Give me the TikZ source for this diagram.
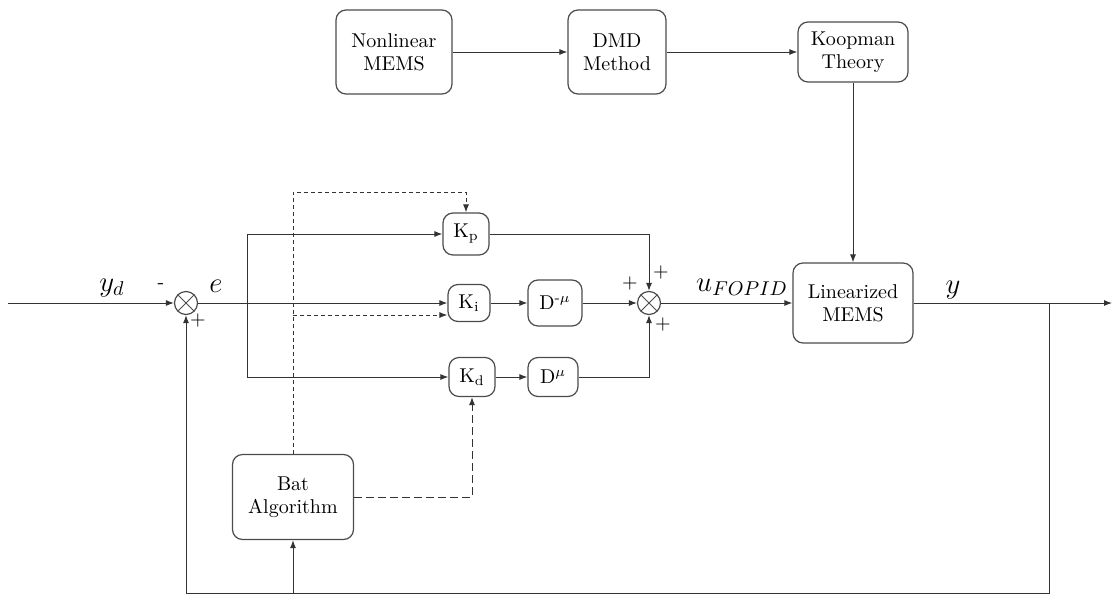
\documentclass[tikz,border=0pt]{standalone}
\usetikzlibrary{arrows.meta,calc}

\tikzset{
  blk/.style={draw=black!70, rounded corners=5pt, align=center, inner sep=1pt,
    line width=0.6pt, font=\fontsize{10}{11.5}\selectfont},
  sumnode/.style={draw=black!70, circle, minimum size=11.5pt, inner sep=0pt, line width=0.6pt,
    path picture={\draw[black!70, line width=0.5pt]
      (path picture bounding box.north west) -- (path picture bounding box.south east)
      (path picture bounding box.north east) -- (path picture bounding box.south west);}},
  sig/.style={draw=black!80, line width=0.5pt, -{Latex[length=4pt,width=3pt]}},
  ctl/.style={sig, dash pattern=on 2pt off 1.5pt},
  ctlb/.style={sig, dash pattern=on 4pt off 2pt},
  lbl/.style={font=\fontsize{14}{16}\selectfont, inner sep=0pt},
  sgn/.style={font=\fontsize{10}{12}\selectfont, inner sep=0pt}
}

\begin{document}
\begin{tikzpicture}[x=0.5pt, y=-0.5pt]
  %%%%% START %%%%%
  \useasboundingbox (0,0) rectangle (1113,595);

  % identification chain
  \node[blk, minimum width=58pt, minimum height=42pt] (nlm) at (394,52) {Nonlinear\\MEMS};
  \node[blk, minimum width=49pt, minimum height=42pt] (dmd) at (617,52) {DMD\\Method};
  \node[blk, minimum width=55pt, minimum height=30pt] (koop) at (853,52) {Koopman\\Theory};
  \node[blk, minimum width=60pt, minimum height=40pt] (lin) at (853,303) {Linearized\\MEMS};

  % controller
  \node[sumnode] (s1) at (186,303) {};
  \node[blk, minimum width=23pt, minimum height=21pt] (kp) at (466,234) {K\textsubscript{p}};
  \node[blk, minimum width=21pt, minimum height=18.5pt] (ki) at (469,303) {K\textsubscript{i}};
  \node[blk, minimum width=27pt, minimum height=23pt] (dmi) at (555,303) {D\textsuperscript{-$\mu$}};
  \node[blk, minimum width=23pt, minimum height=19.5pt] (kd) at (472,377) {K\textsubscript{d}};
  \node[blk, minimum width=25pt, minimum height=19.5pt] (dmp) at (553,377) {D\textsuperscript{$\mu$}};
  \node[sumnode] (s2) at (649,303) {};
  \node[blk, minimum width=60.5pt, minimum height=42.5pt] (bat) at (293,497) {Bat\\Algorithm};

  \coordinate (yin) at (8,303);
  \coordinate (br) at (247,303);
  \coordinate (yout) at (1112,303);
  \coordinate (tap) at (1049,303);
  \coordinate (fbr) at (1049,593);
  \coordinate (fbat) at (293,593);
  \coordinate (dtop) at (293,192);
  \coordinate (dki) at (293,315);

  \draw[sig] (nlm) -- (dmd);
  \draw[sig] (dmd) -- (koop);
  \draw[sig] (koop) -- (lin);

  \draw[sig] (yin) -- (s1);
  \draw[sig] (s1) -- (ki);
  \draw[sig] (br) |- (kp);
  \draw[sig] (br) |- (kd);
  \draw[sig] (ki) -- (dmi);
  \draw[sig] (dmi) -- (s2);
  \draw[sig] (kd) -- (dmp);
  \draw[sig] (kp) -| (s2);
  \draw[sig] (dmp) -| (s2);
  \draw[sig] (s2) -- (lin);
  \draw[sig] (lin) -- (yout);
  \draw[sig] (tap) -- (fbr) -| (s1);
  \draw[sig] (fbat) -- (bat);

  % tuning
  \draw[ctl] (bat) -- (dtop) -| (kp);
  \draw[ctl] (dki) -- (dki -| ki.west);
  \draw[ctlb] (bat) -| (kd);

  \node[lbl] (lyd) at (112,288) {$y_d$};
  \node[lbl] (le) at (216,286) {$e$};
  \node[lbl] (lu) at (742,287) {$u_{FOPID}$};
  \node[lbl] (ly) at (953,290) {$y$};

  \node[sgn] (m1) at (161,286) {-};
  \node[sgn] (p1) at (198,320) {+};
  \node[sgn] (p2) at (630,283) {+};
  \node[sgn] (p3) at (661,272) {+};
  \node[sgn] (p4) at (663,324) {+};
  %%%%% END %%%%%
\end{tikzpicture}
\end{document}
